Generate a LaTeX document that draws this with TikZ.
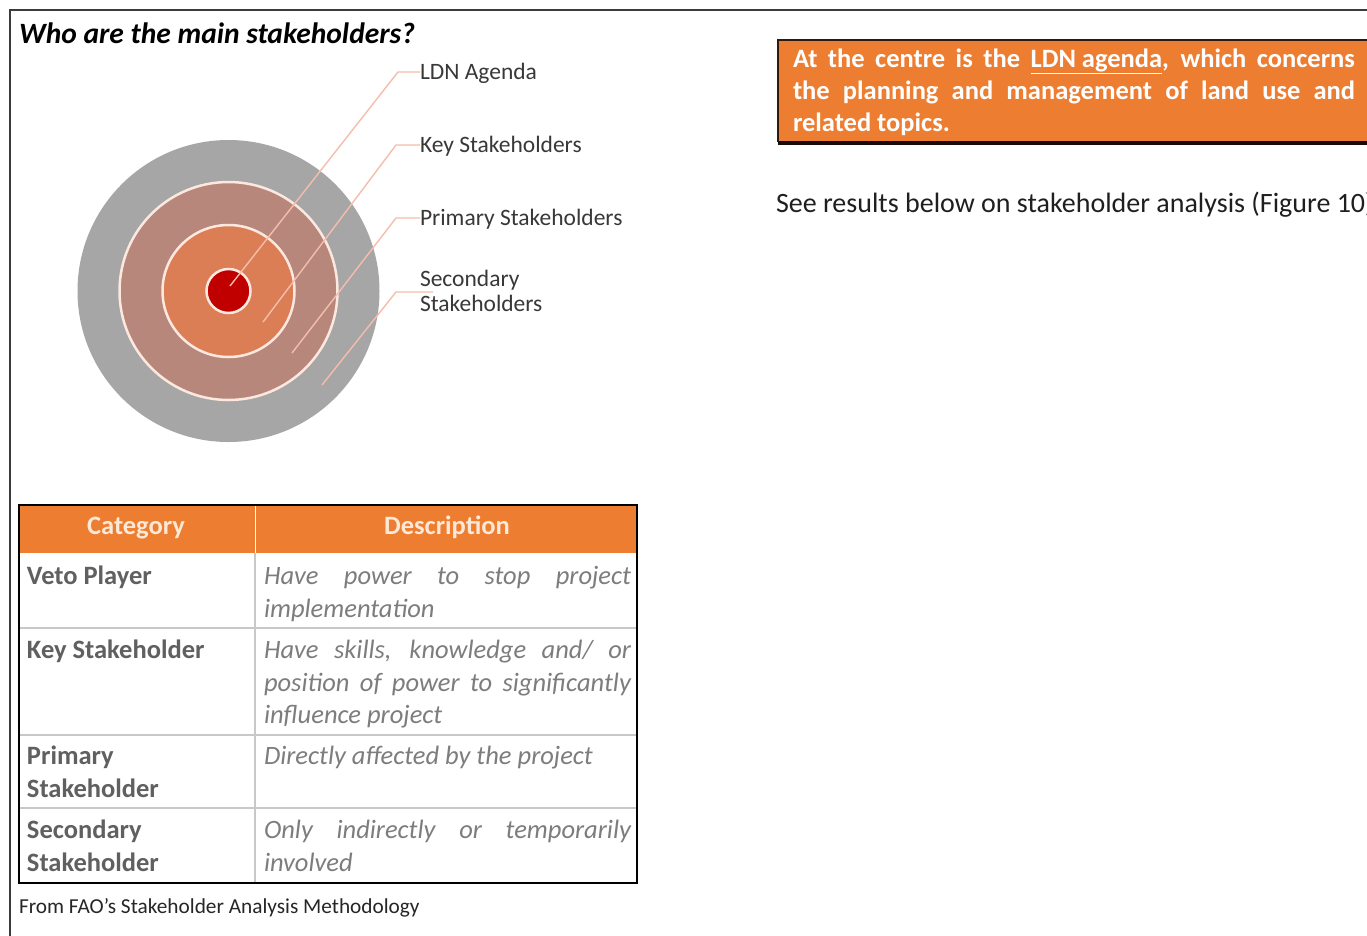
\documentclass[tikz,border=0pt]{standalone}
\usepackage{fontspec}
\setmainfont{Carlito}
\definecolor{ringgray}{RGB}{166,166,166}
\definecolor{ringrose}{RGB}{184,135,123}
\definecolor{ringorange}{RGB}{219,126,86}
\definecolor{ringred}{RGB}{192,0,0}
\definecolor{ringedge}{RGB}{252,232,222}
\definecolor{leadercol}{RGB}{245,190,172}
\definecolor{accent}{RGB}{237,125,49}
\definecolor{headtext}{RGB}{252,232,214}
\definecolor{labeltext}{RGB}{56,56,56}
\definecolor{cattext}{RGB}{96,96,96}
\definecolor{desctext}{RGB}{125,125,125}
\definecolor{gridcol}{RGB}{200,200,200}
\definecolor{framecol}{RGB}{60,60,60}
\begin{document}
\begin{tikzpicture}[x=1pt,y=-1pt,
  every node/.style={inner sep=0pt, outer sep=0pt},
  ringline/.style={draw=ringedge, line width=2.5pt},
  leader/.style={draw=leadercol, line width=1.4pt},
  lbl/.style={anchor=base west, text=labeltext, font=\fontsize{23.5}{28}\selectfont},
  hdr/.style={anchor=base, text=headtext, font=\fontsize{26.5}{33}\selectfont\bfseries},
  cat/.style={anchor=base west, text=cattext, font=\fontsize{26.5}{33}\selectfont\bfseries},
  desc/.style={anchor=base west, text=desctext, font=\fontsize{26.5}{33}\selectfont\itshape},
  note/.style={anchor=base west, text=white, font=\fontsize{26.5}{33}\selectfont\bfseries}]
\useasboundingbox (0,0) rectangle (1367,935);
\fill[white] (0,0) rectangle (1367,935);

% page frame (top and left rules)
\draw[framecol, line width=2pt] (10,936) -- (10,10) -- (1370,10);

% heading
\node[anchor=base west, font=\fontsize{29.5}{34}\selectfont\bfseries\itshape] (title) at (19,43) {Who are the main stakeholders?};

% concentric stakeholder rings
\coordinate (ctr) at (228.5,291);
\fill[ringgray] (ctr) circle (151);
\draw[ringline, fill=ringrose] (ctr) circle (109);
\draw[ringline, fill=ringorange] (ctr) circle (66);
\draw[ringline, fill=ringred] (ctr) circle (22);

% ring labels
\node[lbl] (lLDN) at (420,79) {LDN Agenda};
\node[lbl] (lKey) at (420,152) {Key Stakeholders};
\node[lbl] (lPri) at (420,225) {Primary Stakeholders};
\node[lbl] (lSecA) at (420,286) {Secondary};
\node[lbl] (lSecB) at (420,311) {Stakeholders};

% leader lines from labels into the rings
\coordinate (eLDN) at (398,72);   \coordinate (tLDN) at (230,286);
\coordinate (eKey) at (396,145);  \coordinate (tKey) at (263,322);
\coordinate (ePri) at (396,218);  \coordinate (tPri) at (292,353);
\coordinate (eSec) at (396,292);  \coordinate (tSec) at (322,385);
\draw[leader] (lLDN.west |- eLDN) -- (eLDN) -- (tLDN);
\draw[leader] (lKey.west |- eKey) -- (eKey) -- (tKey);
\draw[leader] (lPri.west |- ePri) -- (ePri) -- (tPri);
\draw[leader] ([xshift=13pt]lSecA.west |- eSec) -- (eSec) -- (tSec);

% stakeholder table
\fill[accent] (19,505) rectangle (637,553);
\draw[gridcol, line width=1.2pt] (255,553) -- (255,883);
\draw[gridcol, line width=1.2pt] (19,628) -- (637,628);
\draw[gridcol, line width=1.2pt] (19,735) -- (637,735);
\draw[gridcol, line width=1.2pt] (19,808) -- (637,808);
\draw[white, line width=1pt] (255,505) -- (255,553);
\draw[black, line width=1.5pt] (19,505) rectangle (637,883);

\node[hdr] (hCat) at (136,534) {Category};
\node[hdr] (hDesc) at (447,534) {Description};

\node[cat] (cVeto) at (27,584) {Veto Player};
\node[desc] (dVeto1) at (264,584) {\makebox[367pt][s]{Have power to stop project}};
\node[desc] (dVeto2) at (264,617) {implementation};

\node[cat] (cKey) at (27,658) {Key Stakeholder};
\node[desc] (dKey1) at (264,658) {\makebox[367pt][s]{Have skills, knowledge and/ or}};
\node[desc] (dKey2) at (264,691) {\makebox[367pt][s]{position of power to significantly}};
\node[desc] (dKey3) at (264,723) {influence project};

\node[cat] (cPri1) at (27,764) {Primary};
\node[cat] (cPri2) at (27,797) {Stakeholder};
\node[desc] (dPri) at (264,764) {Directly affected by the project};

\node[cat] (cSec1) at (27,838) {Secondary};
\node[cat] (cSec2) at (27,871) {Stakeholder};
\node[desc] (dSec1) at (264,838) {\makebox[367pt][s]{Only indirectly or temporarily}};
\node[desc] (dSec2) at (264,871) {involved};

\node[anchor=base west, text=black!85, font=\fontsize{21.3}{25}\selectfont] (src) at (19,913) {From FAO’s Stakeholder Analysis Methodology};

% highlighted note on the right
\fill[black!90!accent] (778,42) rectangle (1375,145);
\fill[accent] (778,40) rectangle (1375,141);
\draw[black!80!accent, line width=1.3pt] (1375,40) -- (778,40) -- (778,142);
\node[note] (n1) at (793,67) {\makebox[562pt][s]{At the centre is the \underline{LDN agenda}, which concerns}};
\node[note] (n2) at (793,99) {\makebox[562pt][s]{the planning and management of land use and}};
\node[note] (n3) at (793,131) {related topics.};

\node[anchor=base west, text=black!88, font=\fontsize{28}{32}\selectfont] (see) at (776,212) {See results below on stakeholder analysis (Figure 10)};
\end{tikzpicture}
\end{document}
